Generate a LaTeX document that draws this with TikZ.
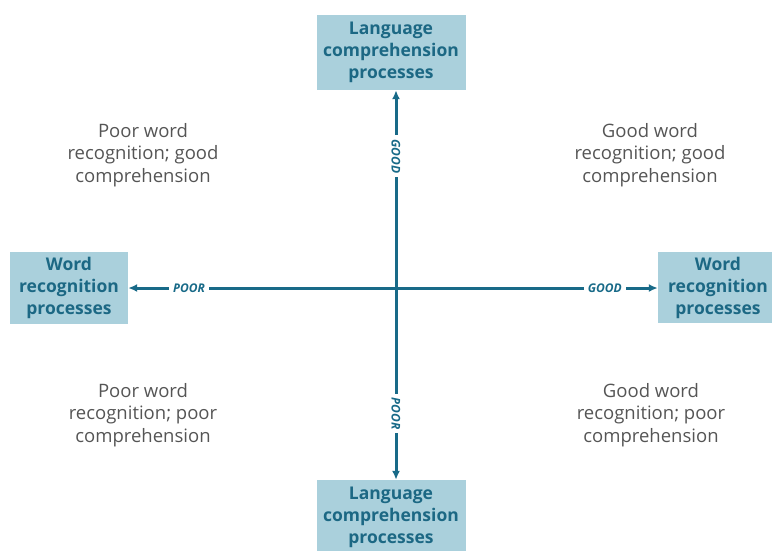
\documentclass[tikz,border=0pt]{standalone}
\usepackage{fontspec}
\setmainfont{Open Sans}
\usetikzlibrary{arrows.meta}
\definecolor{boxfill}{RGB}{170,208,220}
\definecolor{boxtext}{RGB}{28,104,132}
\definecolor{axisline}{RGB}{24,106,136}
\definecolor{quadtext}{RGB}{85,85,85}
\tikzset{
  procbox/.style={fill=boxfill, text=boxtext, font=\fontsize{17.5}{22}\selectfont\bfseries,
    align=center, inner sep=0pt},
  quad/.style={text=quadtext, font=\fontsize{18.5}{22.5}\selectfont, align=center},
  axis/.style={draw=axisline, line width=3pt, {Latex[length=9pt,width=8pt]}-{Latex[length=9pt,width=8pt]}},
  lab/.style={fill=white, text=axisline, font=\fontsize{12}{13}\selectfont\itshape\bfseries, inner sep=4pt}
}
\begin{document}
\begin{tikzpicture}[x=1pt,y=-1pt]
  \useasboundingbox (0,0) rectangle (772,550);
  % processes
  \node[procbox, minimum width=149pt, minimum height=75pt] (lt) at (391,52.5) {Language\\comprehension\\processes};
  \node[procbox, minimum width=149pt, minimum height=75pt] (lb) at (391,517.5) {Language\\comprehension\\processes};
  \node[procbox, minimum width=118pt, minimum height=72pt] (wl) at (69,287.5) {Word\\recognition\\processes};
  \node[procbox, minimum width=120pt, minimum height=71pt] (wr) at (718,287.5) {Word\\recognition\\processes};
  \coordinate (O) at (396,288);
  % axes
  \draw[axis] (wl.east |- O) -- (wr.west |- O)
    node[lab, pos=0.115] {POOR} node[lab, pos=0.9] {GOOD};
  \draw[axis] (O |- lt.south) -- (O |- lb.north)
    node[lab, pos=0.17, rotate=-90] {GOOD} node[lab, pos=0.83, rotate=-90] {POOR};
  % quadrants
  \node[quad] (q1) at (143,155) {Poor word\\recognition; good\\comprehension};
  \node[quad] (q2) at (650,155) {Good word\\recognition; good\\comprehension};
  \node[quad] (q3) at (143,415) {Poor word\\recognition; poor\\comprehension};
  \node[quad] (q4) at (651,415) {Good word\\recognition; poor\\comprehension};
\end{tikzpicture}
\end{document}
